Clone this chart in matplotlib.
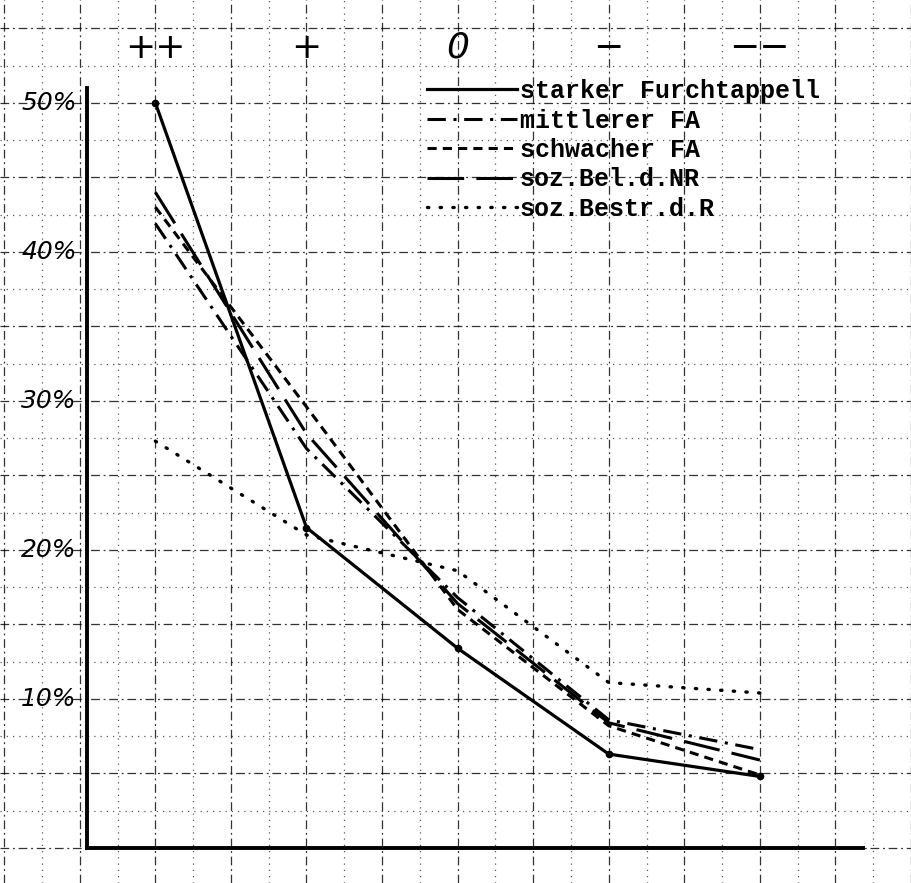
import numpy as np
import matplotlib
matplotlib.use("Agg")
from matplotlib import pyplot as plt

# categories along the top and the five series (percent)
categories = ["++", "+", "0", "\u2212", "\u2212\u2212"]
ylabels = ["10%", "20%", "30%", "40%", "50%"]
ylabel_vals = [10, 20, 30, 40, 50]

starker = [50.0, 21.5, 13.4, 6.3, 4.8]
mittlerer = [41.9, 26.8, 16.8, 8.6, 6.6]
schwacher = [43.0, 29.6, 16.0, 8.2, 4.9]
soz_bel = [44.0, 27.8, 16.4, 8.4, 5.9]
soz_bestr = [27.3, 21.0, 18.6, 11.1, 10.4]

names = ["starker Furchtappell", "mittlerer FA", "schwacher FA",
         "soz.Bel.d.NR", "soz.Bestr.d.R"]

fig = plt.figure(figsize=(9.11, 8.83), dpi=100)
ax = fig.add_axes([0, 0, 1, 1])
x = np.arange(len(categories))

ax.set_xlim(-1.028, 4.897)
ax.set_ylim(-2.35, 56.9)

# graph paper
ax.set_xticks(np.arange(-1, 5.01, 0.5))
ax.set_xticks(np.arange(-0.75, 5.01, 0.5), minor=True)
ax.set_yticks(np.arange(0, 57, 5))
ax.set_yticks(np.arange(2.5, 57, 5), minor=True)
ax.grid(which="major", color="black", lw=0.9, ls=(0, (7, 3, 1.5, 3)), alpha=0.8)
ax.grid(which="minor", color="black", lw=0.9, ls=(0, (1, 4)), alpha=0.65)
ax.tick_params(which="both", length=0, labelleft=False, labelbottom=False)

for s in ["top", "right"]:
    ax.spines[s].set_visible(False)
ax.spines["left"].set_position(("data", -0.455))
ax.spines["left"].set_bounds(0, 51)
ax.spines["left"].set_linewidth(2.8)
ax.spines["bottom"].set_position(("data", 0))
ax.spines["bottom"].set_bounds(-0.455, 4.68)
ax.spines["bottom"].set_linewidth(2.8)

# series
ax.plot(x, starker, color="black", lw=2.3, label=names[0])
ax.plot(x, starker, color="black", lw=0, marker="o", ms=4.5)
ax.plot(x, mittlerer, color="black", lw=2.2, ls=(0, (6, 2.5, 1, 2.5)), label=names[1])
ax.plot(x, schwacher, color="black", lw=2.2, ls=(0, (3, 2)), label=names[2])
ax.plot(x, soz_bel, color="black", lw=2.2, ls=(0, (12, 4)), label=names[3])
ax.plot(x, soz_bestr, color="black", lw=2.4, ls=(0, (0.4, 3.4)),
        dash_capstyle="round", label=names[4])

# top category labels
for i, c in enumerate(categories):
    ax.text(i, 53.7, c, ha="center", va="center", fontsize=26,
            style="italic", color="black")

# y labels
for v, t in zip(ylabel_vals, ylabels):
    ax.text(-0.52, v, t, ha="right", va="center", fontsize=18,
            style="italic", color="black")

leg = ax.legend(loc="upper left", bbox_to_anchor=(427 / 911, 1 - 79 / 883),
                frameon=False, borderpad=0, borderaxespad=0, handlelength=3.6,
                handletextpad=0.1, labelspacing=0.22,
                prop={"family": "Liberation Mono", "weight": "bold", "size": 18})

fig.savefig("out.png", dpi=100)
